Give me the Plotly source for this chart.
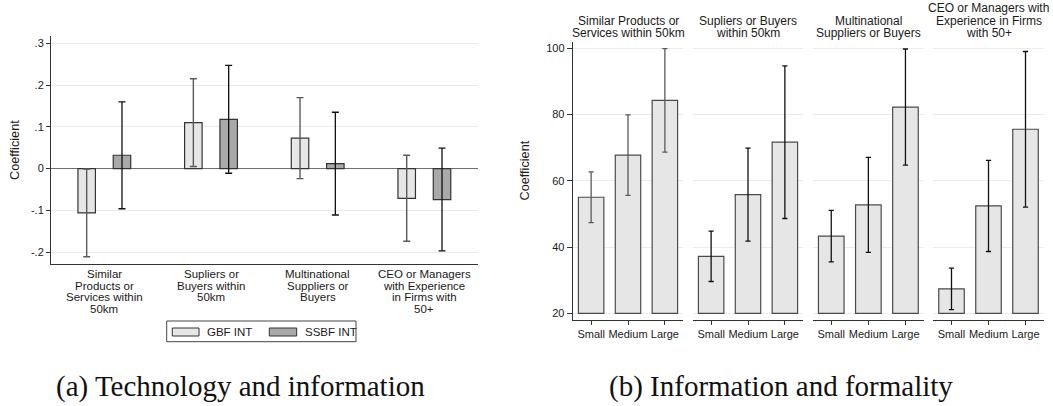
import plotly.graph_objects as go

W, H = 1053, 406

# ---------------- Data: panel (a) ----------------
a_labels = [
    "Similar<br>Products or<br>Services within<br>50km",
    "Supliers or<br>Buyers within<br>50km",
    "Multinational<br>Suppliers or<br>Buyers",
    "CEO or Managers<br>with Experience<br>in Firms with<br>50+",
]
gbf_coef = [-0.106, 0.110, 0.073, -0.071]
gbf_ci = [0.105, 0.105, 0.097, 0.103]
ssbf_coef = [0.032, 0.118, 0.012, -0.074]
ssbf_ci = [0.128, 0.129, 0.123, 0.123]
a_yticks = [-0.2, -0.1, 0, 0.1, 0.2, 0.3]
a_yticktext = ["-.2", "-.1", "0", ".1", ".2", ".3"]
a_series = ["GBF INT", "SSBF INT"]

# ---------------- Data: panel (b) ----------------
b_titles = [
    "Similar Products or<br>Services within 50km",
    "Supliers or Buyers<br>within 50km",
    "Multinational<br>Suppliers or Buyers",
    "CEO or Managers with<br>Experience in Firms<br>with 50+",
]
b_sizes = ["Small", "Medium", "Large"]
b_similar = [55.0, 67.7, 84.2]
b_similar_ci = [7.65, 12.15, 15.6]
b_suppliers = [37.2, 55.8, 71.6]
b_suppliers_ci = [7.6, 14.0, 23.0]
b_multinational = [43.3, 52.7, 82.2]
b_multinational_ci = [7.75, 14.3, 17.5]
b_ceo = [27.4, 52.4, 75.5]
b_ceo_ci = [6.25, 13.75, 23.45]
b_base = 20
b_yticks = [20, 40, 60, 80, 100]

captions = ["(a) Technology and information", "(b) Information and formality"]


def px(x):
    return x / W


def py(y):
    return 1 - y / H


SANS = "Liberation Sans, Arial, sans-serif"
TXT = "#1a1a1a"
AX = "#333333"
GRID = "#ebebeb"
GBF_FILL = "#e6e6e6"
SSBF_FILL = "#a9a9a9"

fig = go.Figure()

# ---------------- panel (a) bars ----------------
fig.add_trace(go.Bar(
    x=a_labels, y=gbf_coef, name=a_series[0],
    offset=-0.2475, width=0.164,
    marker=dict(color=GBF_FILL, line=dict(color=AX, width=1.2)),
    error_y=dict(type="data", array=gbf_ci, color="#5a5a5a", thickness=1.4, width=3.5),
    xaxis="x", yaxis="y", showlegend=False,
))
fig.add_trace(go.Bar(
    x=a_labels, y=ssbf_coef, name=a_series[1],
    offset=0.0835, width=0.164,
    marker=dict(color=SSBF_FILL, line=dict(color=AX, width=1.2)),
    error_y=dict(type="data", array=ssbf_ci, color="#111111", thickness=1.3, width=3.5),
    xaxis="x", yaxis="y", showlegend=False,
))

# ---------------- panel (b) bars ----------------
b_values = [b_similar, b_suppliers, b_multinational, b_ceo]
b_cis = [b_similar_ci, b_suppliers_ci, b_multinational_ci, b_ceo_ci]
err_cols = ["#5a5a5a", "#111111", "#111111", "#111111"]
for i, (vals, cis) in enumerate(zip(b_values, b_cis)):
    k = i + 2
    fig.add_trace(go.Bar(
        x=b_sizes, y=[v - b_base for v in vals], base=b_base, width=0.69,
        marker=dict(color=GBF_FILL, line=dict(color="#4a4a4a", width=1.2)),
        error_y=dict(type="data", array=cis, color=err_cols[i], thickness=1.3, width=2.6),
        xaxis=f"x{k}", yaxis=f"y{k}", showlegend=False,
    ))

layout = dict(
    width=W, height=H,
    margin=dict(l=0, r=0, t=0, b=0),
    paper_bgcolor="white", plot_bgcolor="white",
    barmode="overlay",
    font=dict(family=SANS, color=TXT, size=11),
    showlegend=False,
)

# axes for panel (a)
layout["xaxis"] = dict(
    domain=[px(51), px(477.7)], anchor="y",
    type="category", range=[-0.5, 3.5],
    showline=True, linecolor=AX, linewidth=1,
    ticks="", showticklabels=False, showgrid=False, zeroline=False,
)
layout["yaxis"] = dict(
    domain=[py(264.3), py(36)], anchor="x",
    range=[-0.229, 0.3175],
    tickvals=a_yticks, ticktext=a_yticktext,
    showline=True, linecolor=AX, linewidth=1,
    ticks="outside", ticklen=4, tickcolor=AX, tickwidth=1,
    tickfont=dict(size=11, color=TXT),
    showgrid=True, gridcolor=GRID, gridwidth=1,
    zeroline=True, zerolinecolor="#707070", zerolinewidth=1.2,
)

# axes for panel (b)
b_dom = [(572.7, 683.3), (692.7, 803.3), (812.7, 924), (933, 1044)]
for i, (x0, x1) in enumerate(b_dom):
    k = i + 2
    layout[f"xaxis{k}"] = dict(
        domain=[px(x0), px(x1)], anchor=f"y{k}",
        type="category", range=[-0.5, 2.5],
        showline=True, linecolor=AX, linewidth=1,
        ticks="outside", ticklen=4, tickcolor=AX, tickwidth=1,
        tickfont=dict(size=11, color=TXT),
        showgrid=False, zeroline=False,
    )
    ya = dict(
        domain=[py(320), py(41.7)], anchor=f"x{k}",
        range=[18, 101.9], tickvals=b_yticks,
        showgrid=True, gridcolor=GRID, gridwidth=1, zeroline=False,
    )
    if i == 0:
        ya.update(showline=True, linecolor=AX, linewidth=1,
                  ticks="outside", ticklen=5, tickcolor=AX, tickwidth=1,
                  tickfont=dict(size=11, color=TXT))
    else:
        ya.update(matches="y2", showline=False, ticks="", showticklabels=False)
    layout[f"yaxis{k}"] = ya

fig.update_layout(**layout)

annotations = []
# panel (a) category labels, one annotation per line (tight line spacing)
for cat in a_labels:
    for j, line in enumerate(cat.split("<br>")):
        annotations.append(dict(
            x=cat, xref="x", y=py(274 + 11.5 * j), yref="paper",
            text=line, showarrow=False, xanchor="center", yanchor="middle",
            font=dict(size=11.5, color=TXT, family=SANS),
        ))

# panel (b) subplot titles
for i, t in enumerate(b_titles):
    x0, x1 = b_dom[i]
    lines = t.split("<br>")
    n = len(lines)
    for j, line in enumerate(lines):
        yc = 33.3 - 12.5 * (n - 1 - j)
        annotations.append(dict(
            x=px((x0 + x1) / 2), xref="paper", y=py(yc), yref="paper",
            text=line, showarrow=False, xanchor="center", yanchor="middle",
            font=dict(size=12, color=TXT, family=SANS),
        ))

# y axis titles
for xc, yc in [(15, 150), (524.5, 171)]:
    annotations.append(dict(
        x=px(xc), xref="paper", y=py(yc), yref="paper",
        text="Coefficient", textangle=-90, showarrow=False,
        xanchor="center", yanchor="middle",
        font=dict(size=12.7, color=TXT, family=SANS),
    ))

# legend (panel a), drawn manually to match Stata style
shapes = [
    dict(type="rect", xref="paper", yref="paper",
         x0=px(166.7), x1=px(356), y0=py(341.7), y1=py(321),
         line=dict(color="#444444", width=1), fillcolor="white"),
    dict(type="rect", xref="paper", yref="paper",
         x0=px(172.3), x1=px(199), y0=py(336), y1=py(328),
         line=dict(color=AX, width=1), fillcolor=GBF_FILL),
    dict(type="rect", xref="paper", yref="paper",
         x0=px(269.3), x1=px(296.7), y0=py(336), y1=py(328),
         line=dict(color=AX, width=1), fillcolor=SSBF_FILL),
]
for name, xl in zip(a_series, [205, 302.5]):
    annotations.append(dict(
        x=px(xl), xref="paper", y=py(332), yref="paper",
        text=name, showarrow=False, xanchor="left", yanchor="middle",
        font=dict(size=11.5, color=TXT, family=SANS),
    ))

# captions
for cap, xc in zip(captions, [240, 781]):
    annotations.append(dict(
        x=px(xc), xref="paper", y=py(386), yref="paper",
        text=cap, showarrow=False, xanchor="center", yanchor="middle",
        font=dict(size=29, color="#111111", family="Liberation Serif, serif"),
    ))

fig.update_layout(annotations=annotations, shapes=shapes)

fig.write_html(
    "out.html",
    config={"displayModeBar": False},
    post_script="document.body.style.margin='0';document.body.style.overflow='hidden';",
)
